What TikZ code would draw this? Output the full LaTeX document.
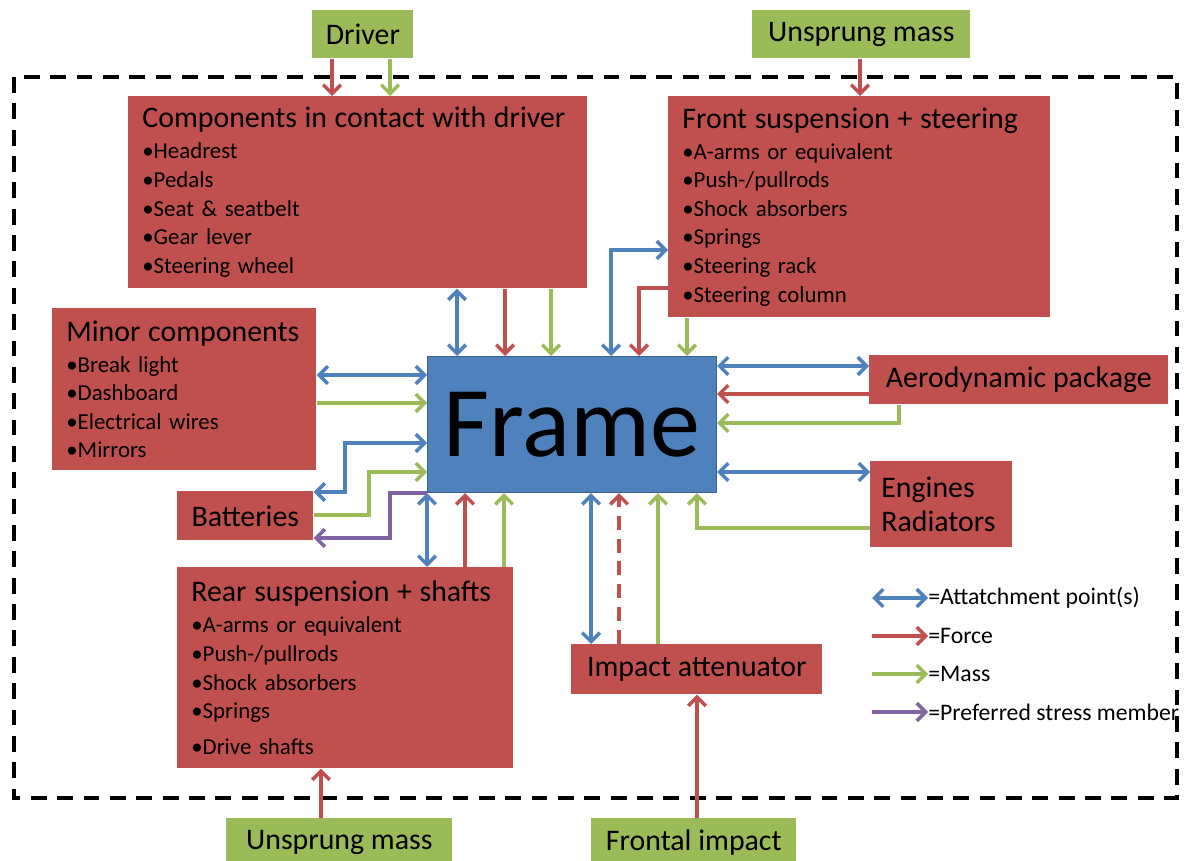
\documentclass[tikz,border=0pt]{standalone}
\usepackage{fontspec}
\setmainfont{Carlito}
\usetikzlibrary{arrows.meta,positioning}

\definecolor{boxred}{HTML}{C0504D}
\definecolor{boxgreen}{HTML}{9BBB59}
\definecolor{frblue}{HTML}{4F81BD}
\definecolor{stresspurple}{HTML}{8064A2}

\newcommand{\boxtitle}{\fontsize{17}{20}\selectfont}

\begin{document}
\begin{tikzpicture}[x=0.02cm, y=-0.02cm,
    >={Straight Barb[length=5pt,width=10pt]},
    redbox/.style={fill=boxred, anchor=north west},
    greenbox/.style={fill=boxgreen, anchor=north west, font=\boxtitle},
    listbox/.style={redbox, align=left, inner xsep=0.28cm, inner ysep=0pt,
        font=\fontsize{13}{16.3}\selectfont},
    plainbox/.style={redbox, font=\boxtitle},
    framebox/.style={fill=frblue, draw=frblue!75!black, line width=0.6pt, anchor=north west,
        minimum width=5.78cm, minimum height=2.72cm, font=\fontsize{57}{60}\selectfont},
    attline/.style={<->, line width=2pt, draw=frblue},
    forceline/.style={->, line width=2pt, draw=boxred},
    massline/.style={->, line width=2pt, draw=boxgreen},
    stressline/.style={->, line width=2pt, draw=stresspurple},
    legtext/.style={anchor=west, inner sep=0pt, font=\fontsize{13.5}{16}\selectfont}]

    \clip (0,0) rectangle (1186,861);

    % Dashed border of the vehicle
    \draw[line width=2.2pt, dash pattern=on 9pt off 6pt] (14,77) rectangle (1177,798);

    % Outside inputs
    \node[greenbox, minimum width=2.02cm, minimum height=0.96cm] (driver) at (312,10) {Driver};
    \node[greenbox, minimum width=4.36cm, minimum height=0.96cm] (unsprungT) at (752,10) {Unsprung mass};
    \node[greenbox, minimum width=4.52cm, minimum height=0.96cm] (unsprungB) at (226,818) {Unsprung mass};
    \node[greenbox, minimum width=4.10cm, minimum height=0.96cm] (frontal) at (591,818) {Frontal impact};

    % The frame
    \node[framebox] (frame) at (427,356) {Frame};

    % Component groups
    \node[listbox, text width=8.62cm, minimum height=3.84cm] (comp) at (128,96)
        {{\boxtitle Components in contact with driver}\\[1.3pt]
        \textbullet Headrest\\ \textbullet Pedals\\ \textbullet Seat \& seatbelt\\
        \textbullet Gear lever\\ \textbullet Steering wheel};
    \node[listbox, text width=7.08cm, minimum height=4.42cm] (front) at (668,96)
        {{\boxtitle Front suspension + steering}\\[1.3pt]
        \textbullet A-arms or equivalent\\ \textbullet Push-/pullrods\\ \textbullet Shock absorbers\\
        \textbullet Springs\\ \textbullet Steering rack\\ \textbullet Steering column};
    \node[listbox, text width=4.72cm, minimum height=3.24cm] (minor) at (52,308)
        {{\boxtitle Minor components}\\[1.3pt]
        \textbullet Break light\\ \textbullet Dashboard\\ \textbullet Electrical wires\\
        \textbullet Mirrors};
    \node[listbox, text width=6.16cm, minimum height=4.02cm] (rear) at (177,567)
        {{\boxtitle Rear suspension + shafts}\\[1.3pt]
        \textbullet A-arms or equivalent\\ \textbullet Push-/pullrods\\ \textbullet Shock absorbers\\
        \textbullet Springs\\[4pt] \textbullet Drive shafts};
    \node[listbox, text width=2.40cm, inner xsep=0.22cm, minimum height=1.72cm,
        font=\fontsize{17}{19.9}\selectfont] (engines) at (870,461) {Engines\\ Radiators};
    \node[plainbox, minimum width=5.98cm, minimum height=0.98cm] (aero) at (869,355) {Aerodynamic package};
    \node[plainbox, minimum width=2.72cm, minimum height=0.98cm] (batt) at (177,491) {Batteries};
    \node[plainbox, minimum width=5.02cm, minimum height=1.00cm] (impact) at (571,644) {Impact attenuator};

    % Driver and unsprung mass inputs
    \draw[forceline] (332,0 |- driver.south) -- (332,0 |- comp.north);
    \draw[massline] (390,0 |- driver.south) -- (390,0 |- comp.north);
    \draw[forceline] (860,0 |- unsprungT.south) -- (860,0 |- front.north);
    \draw[forceline] (321,0 |- unsprungB.north) -- (321,0 |- rear.south);
    \draw[forceline] (697,0 |- frontal.north) -- (697,0 |- impact.south);

    % Top connections
    \draw[attline] (457,0 |- comp.south) -- (457,0 |- frame.north);
    \draw[forceline] (505,0 |- comp.south) -- (505,0 |- frame.north);
    \draw[massline] (551,0 |- comp.south) -- (551,0 |- frame.north);
    \draw[attline] (611,0 |- frame.north) |- (front.west |- 0,250);
    \draw[forceline] (front.west |- 0,288) -| (639,0 |- frame.north);
    \draw[massline] (687,0 |- front.south) -- (687,0 |- frame.north);

    % Right connections
    \draw[attline] (frame.east |- 0,366) -- (aero.west |- 0,366);
    \draw[forceline] (aero.west |- 0,394) -- (frame.east |- 0,394);
    \draw[massline] (899,0 |- aero.south) |- (frame.east |- 0,423);
    \draw[attline] (frame.east |- 0,472) -- (engines.west |- 0,472);
    \draw[massline] (engines.west |- 0,528) -| (697,0 |- frame.south);

    % Left connections
    \draw[attline] (minor.east |- 0,375) -- (frame.west |- 0,375);
    \draw[massline] (minor.east |- 0,403) -- (frame.west |- 0,403);
    \draw[attline] (frame.west |- 0,443) -| (345,492) -- (batt.east |- 0,492);
    \draw[massline] (batt.east |- 0,515) -| (369,472) -- (frame.west |- 0,472);
    \draw[stressline] (frame.south west) -| (390,538) -- (batt.east |- 0,538);

    % Bottom connections
    \draw[attline] (frame.south west) -- (frame.south west |- rear.north);
    \draw[forceline] (465,0 |- rear.north) -- (465,0 |- frame.south);
    \draw[massline] (504,0 |- rear.north) -- (504,0 |- frame.south);
    \draw[attline] (591,0 |- frame.south) -- (591,0 |- impact.north);
    \draw[forceline, dashed, dash pattern=on 8pt off 5pt] (619,0 |- impact.north) -- (619,0 |- frame.south);
    \draw[massline] (658,0 |- impact.north) -- (658,0 |- frame.south);

    % Legend
    \node[legtext] (lgatt) at (928,598) {=Attatchment point(s)};
    \node[legtext] (lgforce) at (928,636) {=Force};
    \node[legtext] (lgmass) at (928,674) {=Mass};
    \node[legtext] (lgstress) at (928,712) {=Preferred stress member};
    \coordinate (lgattS) at (872,598);
    \coordinate (lgforceS) at (872,636);
    \coordinate (lgmassS) at (872,674);
    \coordinate (lgstressS) at (872,712);
    \draw[attline] (lgattS) -- (lgatt.west);
    \draw[forceline] (lgforceS) -- (lgforce.west);
    \draw[massline] (lgmassS) -- (lgmass.west);
    \draw[stressline] (lgstressS) -- (lgstress.west);
\end{tikzpicture}
\end{document}
